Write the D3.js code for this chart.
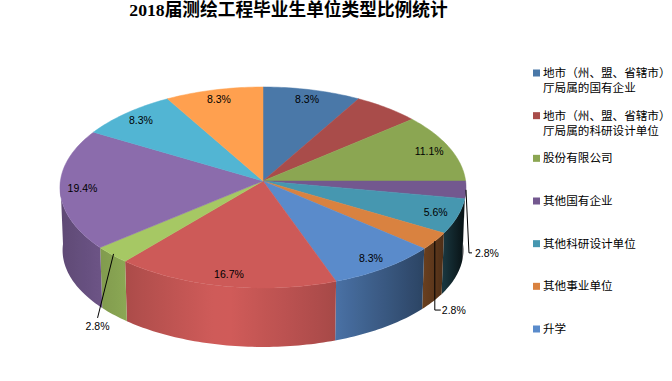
<!DOCTYPE html>
<html>
<head>
<meta charset="utf-8">
<script src="https://d3js.org/d3.v7.min.js"></script>
<style>
  html, body { margin: 0; padding: 0; background: #fff; overflow: hidden; }
  text { fill: #000; }
  .title { font-family: "Liberation Serif", "Noto Sans CJK SC", serif; font-size: 17.7px; font-weight: 700; }
  .pct { font-family: "Liberation Sans", sans-serif; font-size: 10.5px; }
  .legend { font-family: "Noto Sans CJK SC", sans-serif; font-size: 11.6px; }
</style>
</head>
<body>
<script>
// chart data
var titleText = "2018届测绘工程毕业生单位类型比例统计";
var values = [8.3, 5.6, 11.1, 2.8, 5.6, 2.8, 8.3, 16.7, 2.8, 19.4, 8.3, 8.3];
var valueLabels = ["8.3%", "", "11.1%", "2.8%", "5.6%", "2.8%", "8.3%", "16.7%", "2.8%", "19.4%", "8.3%", "8.3%"];
var colours = ["#4a78a8", "#a94c4a", "#8ba652", "#73588f", "#4697b0", "#d98240", "#5a8bcb",
               "#cd5a58", "#a6c864", "#8b6cac", "#52b5d3", "#ffa04f"];
var legendNames = [
  ["地市（州、盟、省辖市）", "厅局属的国有企业"],
  ["地市（州、盟、省辖市）", "厅局属的科研设计单位"],
  ["股份有限公司"],
  ["其他国有企业"],
  ["其他科研设计单位"],
  ["其他事业单位"],
  ["升学"]
];

var width = 672, height = 381;
var labelRadius = 0.89;
var perspective = 0.0647;

var svg = d3.select("body").append("svg")
  .attr("width", width)
  .attr("height", height);
var defs = svg.append("defs");

var xTop = d3.scaleLinear().domain([-1, 1]).range([60.4, 465.6]);
var yTop = d3.scaleLinear().domain([-1, 1]).range([80.9, 281.1]);
var xBottom = d3.scaleLinear().domain([-1, 1]).range([63, 463]);
var yBottom = d3.scaleLinear().domain([-1, 1]).range([147.7, 340.3]);

// side lighting by horizontal position on the disc
var shade = d3.scaleLinear()
  .domain([-1, -0.65, -0.2, 0.35, 0.78, 0.88, 1])
  .range([0.68, 0.85, 1.03, 0.82, 0.5, 0.38, 0.1]);

// far side of the disc is foreshortened, so divide by a depth term
function project(angle, r, xs, ys) {
  var u = r * Math.sin(angle), v = r * Math.cos(angle);
  var w = 1 + perspective * v;
  return [xs(u / w), ys(-v / w)];
}

function topPoint(angle, r) {
  return project(angle, r, xTop, yTop);
}

function arcAngles(a0, a1) {
  var n = Math.max(2, Math.ceil((a1 - a0) / 0.02));
  return d3.range(n + 1).map(function(i) { return a0 + (a1 - a0) * i / n; });
}

var line = d3.line();

var slices = d3.pie().sort(null).value(function(d) { return d; })(values);

// front wall of the cylinder, only the part between 90 and 270 degrees shows
var front = svg.append("g").attr("class", "sides");
slices.forEach(function(d, i) {
  var a0 = Math.max(d.startAngle, Math.PI / 2);
  var a1 = Math.min(d.endAngle, Math.PI * 1.5);
  if (a1 <= a0) return;

  var px0 = topPoint(a1, 1)[0], px1 = topPoint(a0, 1)[0];
  var grad = defs.append("linearGradient")
    .attr("id", "side" + i)
    .attr("gradientUnits", "userSpaceOnUse")
    .attr("x1", px0).attr("x2", px1)
    .attr("y1", 0).attr("y2", 0);
  d3.range(13).forEach(function(k) {
    var t = k / 12;
    var c = d3.rgb(colours[i]);
    var s = shade(xTop.invert(px0 + (px1 - px0) * t));
    grad.append("stop")
      .attr("offset", t)
      .attr("stop-color", d3.rgb(c.r * s, c.g * s, c.b * s).formatHex());
  });

  var angles = arcAngles(a0, a1);
  var pts = angles.map(function(a) { return topPoint(a, 1); })
    .concat(angles.slice().reverse().map(function(a) { return project(a, 1, xBottom, yBottom); }));
  front.append("path")
    .attr("d", line(pts) + "Z")
    .attr("fill", "url(#side" + i + ")");
});

// top surface
var topFace = svg.append("g").attr("class", "top");
slices.forEach(function(d, i) {
  var pts = [topPoint(0, 0)].concat(arcAngles(d.startAngle, d.endAngle).map(function(a) {
    return topPoint(a, 1);
  }));
  topFace.append("path")
    .attr("d", line(pts) + "Z")
    .attr("fill", colours[i])
    .attr("stroke", colours[i])
    .attr("stroke-width", 0.5);
});

function midAngle(d) {
  return (d.startAngle + d.endAngle) / 2;
}

// labels that sit inside their slice
svg.append("g").selectAll("text")
  .data(slices.filter(function(d, i) { return valueLabels[i] && values[i] > 2.8; }))
  .enter().append("text")
  .attr("class", "pct")
  .attr("text-anchor", "middle")
  .attr("x", function(d) { return topPoint(midAngle(d), labelRadius)[0]; })
  .attr("y", function(d) { return topPoint(midAngle(d), labelRadius)[1] + 4; })
  .text(function(d) { return valueLabels[d.index]; });

// the thin slices get a leader line, route is by hand
var leaders = [
  { index: 3, radius: 1.0, route: [[3, 63], [6, 63]], labelAt: [9, 67.5] },
  { index: 5, radius: 1.0, route: [[0, 69], [6, 69]], labelAt: [7, 73] },
  { index: 8, radius: 0.99, route: [[-16, 64]], labelAt: [-28, 76] }
];
var leaderLayer = svg.append("g");
leaders.forEach(function(l) {
  var start = topPoint(midAngle(slices[l.index]), l.radius);
  var pts = [start].concat(l.route.map(function(p) { return [start[0] + p[0], start[1] + p[1]]; }));
  leaderLayer.append("path")
    .attr("d", line(pts))
    .attr("fill", "none")
    .attr("stroke", "#000")
    .attr("stroke-width", 1);
  leaderLayer.append("text")
    .attr("class", "pct")
    .attr("x", start[0] + l.labelAt[0])
    .attr("y", start[1] + l.labelAt[1])
    .text(valueLabels[l.index]);
});

// title
svg.append("text")
  .attr("class", "title")
  .attr("text-anchor", "middle")
  .attr("x", 288.5)
  .attr("y", 16)
  .text(titleText);

// legend, rows are evenly spaced
var legendY = d3.scalePoint().domain(d3.range(legendNames.length)).range([73, 329]);
var legend = svg.append("g");
legendNames.forEach(function(lines, i) {
  var y = legendY(i);
  legend.append("rect")
    .attr("x", 533).attr("y", y - 3.5)
    .attr("width", 7).attr("height", 7)
    .attr("fill", colours[i]);
  lines.forEach(function(t, k) {
    legend.append("text")
      .attr("class", "legend")
      .attr("x", 543)
      .attr("y", y + 4 + k * 15)
      .text(t);
  });
});
</script>
</body>
</html>
